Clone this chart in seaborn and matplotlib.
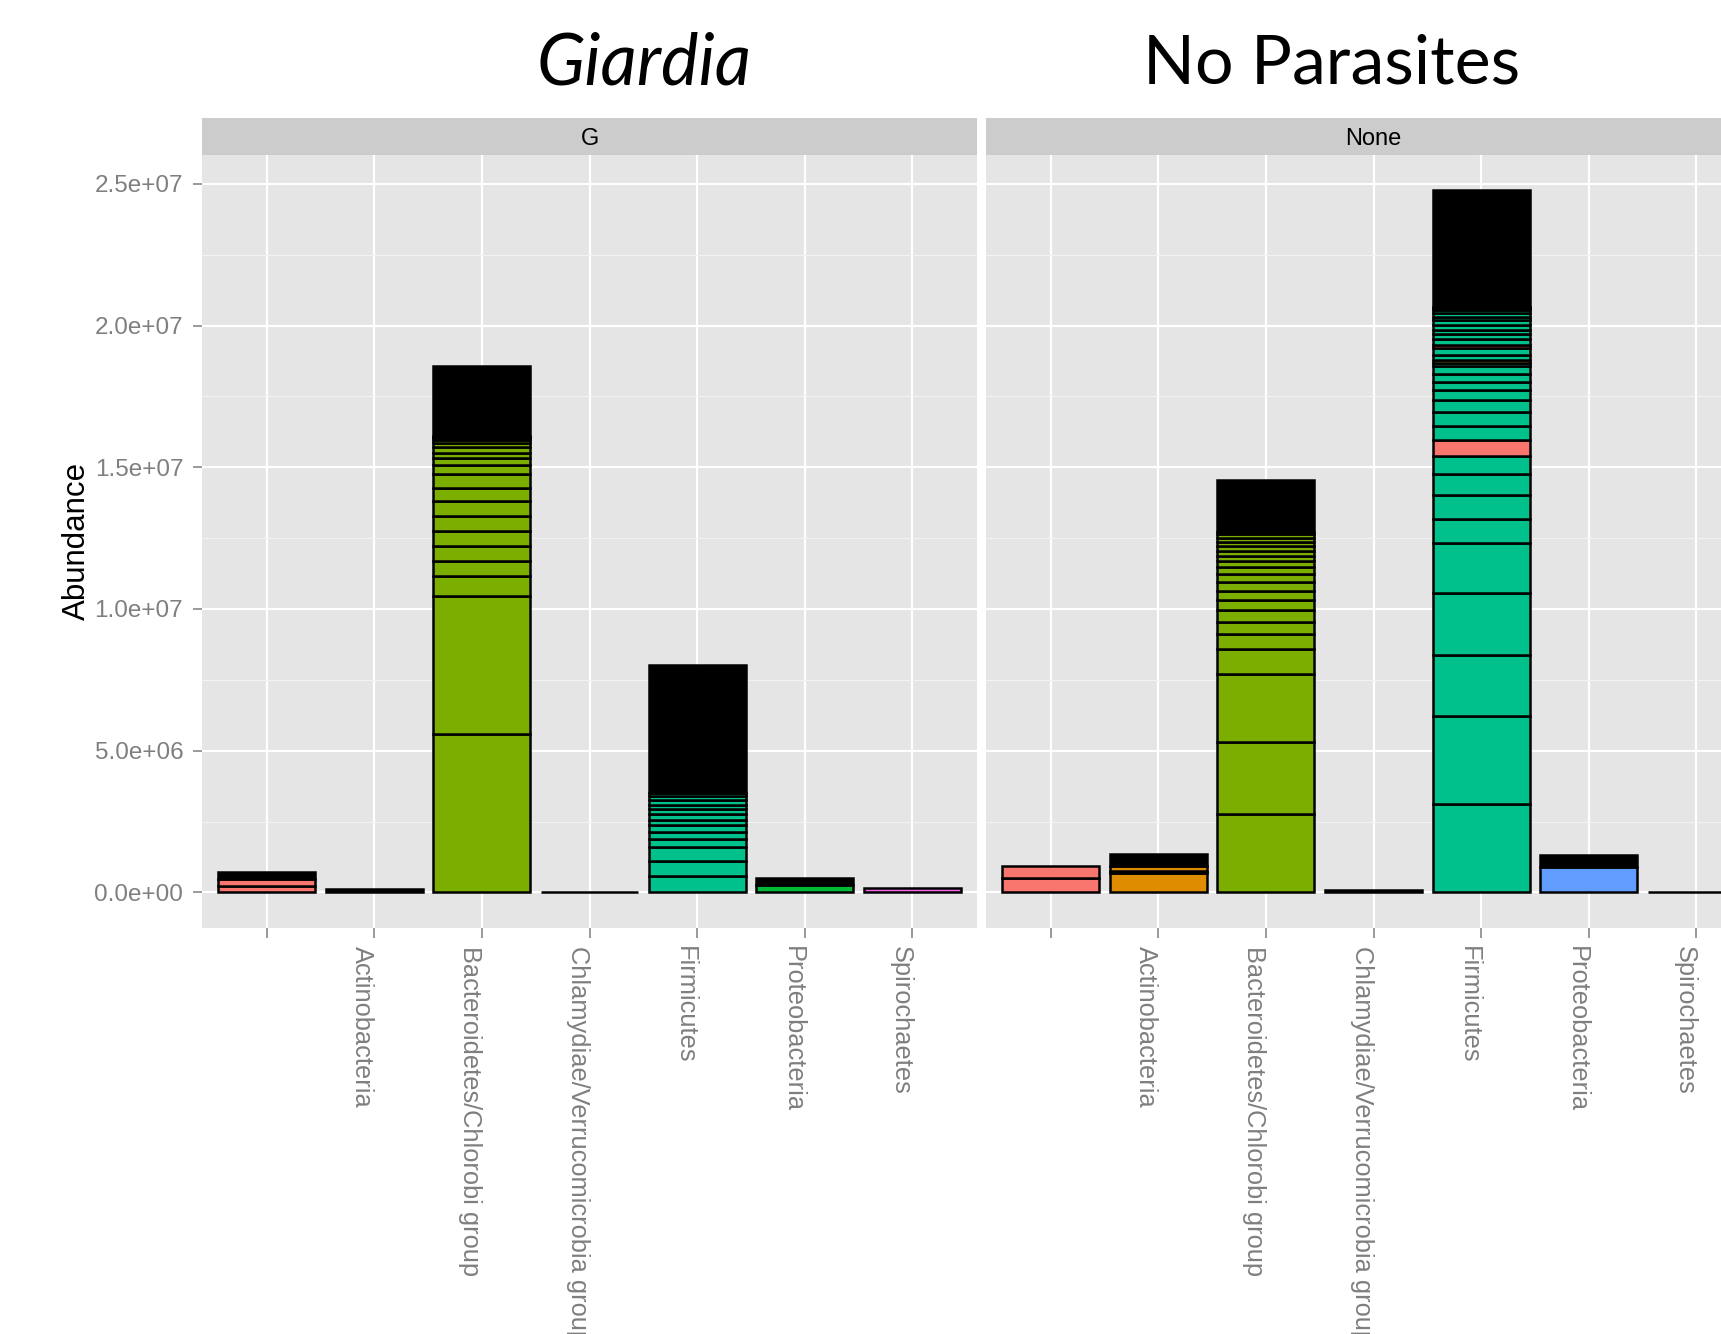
import numpy as np
import matplotlib.pyplot as plt
import seaborn as sns
from matplotlib.ticker import MultipleLocator, FuncFormatter

phyla = ["", "Actinobacteria", "Bacteroidetes/Chlorobi group",
         "Chlamydiae/Verrucomicrobia group", "Firmicutes",
         "Proteobacteria", "Spirochaetes"]
strips = ["G", "None"]
titles = ["Giardia", "No Parasites"]

# abundance of each stacked taxon (millions), bottom to top, one list per phylum
g_abund = [
    [0.235, 0.22, 0.27],
    [0.12],
    [5.60, 4.85, 0.70, 0.53, 0.56, 0.50, 0.54, 0.53, 0.47, 0.48,
     0.31, 0.25, 0.19, 0.19, 0.15, 0.10, 0.07, 0.04, 0.04, 2.47],
    [0.03],
    [0.59, 0.52, 0.50, 0.27, 0.25, 0.24, 0.20, 0.18, 0.18, 0.17,
     0.15, 0.15, 0.10, 4.54],
    [0.25, 0.25],
    [0.17],
]
# fill level of each taxon (index into the 12-level hue palette, -1 = many tiny taxa)
g_fill = [
    [0, 0, -1],
    [-1],
    [3, 3, 3, 3, 3, 3, 3, 3, 3, 3, 3, 3, 3, 3, 3, 3, 3, 3, 3, -1],
    [-1],
    [5, 5, 5, 5, 5, 5, 5, 5, 5, 5, 5, 5, 5, -1],
    [4, -1],
    [10],
]

none_abund = [
    [0.50, 0.42],
    [0.68, 0.09, 0.15, 0.45],
    [2.75, 2.55, 2.41, 0.88, 0.53, 0.43, 0.41, 0.36, 0.30, 0.32,
     0.29, 0.26, 0.21, 0.18, 0.17, 0.16, 0.16, 0.15, 0.12, 0.09, 1.81],
    [0.08],
    [3.11, 3.11, 2.16, 2.18, 1.76, 0.87, 0.82, 0.74, 0.65, 0.58,
     0.47, 0.51, 0.41, 0.36, 0.28, 0.29, 0.28, 0.10, 0.12, 0.16,
     0.24, 0.12, 0.21, 0.17, 0.16, 0.16, 0.17, 0.13, 0.11, 0.12,
     0.06, 0.05, 4.12],
    [0.89, 0.44],
    [0.03],
]
none_fill = [
    [0, 0],
    [1, 1, 1, -1],
    [3, 3, 3, 3, 3, 3, 3, 3, 3, 3, 3, 3, 3, 3, 3, 3, 3, 3, 3, 3, -1],
    [-1],
    [5, 5, 5, 5, 5, 5, 5, 5, 5, 0, 5, 5, 5, 5, 5, 5, 5, 5, 2, 5,
     5, 0, 5, 5, 5, 5, 5, 5, 5, 5, 5, 5, -1],
    [8, -1],
    [-1],
]

# ggplot2 default hue palette, 12 levels
hue12 = ["#F8766D", "#DE8C00", "#B79F00", "#7CAE00", "#00BA38", "#00C08B",
         "#00BFC4", "#00B4F0", "#619CFF", "#C77CFF", "#F564E3", "#FF64B0"]

sns.set_theme(style="darkgrid", rc={"axes.facecolor": "#E5E5E5",
                                    "grid.color": "white",
                                    "figure.facecolor": "white",
                                    "text.color": "black"})
plt.rcParams["font.family"] = ["Liberation Sans", "DejaVu Sans"]

W, H = 1721, 1334
fig = plt.figure(figsize=(W / 100, H / 100), dpi=100)

# panel geometry in pixels (second panel runs off the right edge)
panel_left = [202, 986]
panel_w = 775
panel_top, panel_bot = 155, 927.5
strip_top = 117.5

ymax = max(sum(b) for b in g_abund + none_abund) * 1e6
grey = "#7F7F7F"

for k, (abund, fill) in enumerate([(g_abund, g_fill), (none_abund, none_fill)]):
    ax = fig.add_axes([panel_left[k] / W, 1 - panel_bot / H,
                       panel_w / W, (panel_bot - panel_top) / H])
    for i, (vals, keys) in enumerate(zip(abund, fill)):
        vals = np.array(vals) * 1e6
        bottoms = np.concatenate([[0], np.cumsum(vals)[:-1]])
        cols = ["black" if c < 0 else hue12[c] for c in keys]
        ax.bar(np.full(len(vals), i), vals, bottom=bottoms, width=0.9,
               color=cols, edgecolor="black", linewidth=1.8, zorder=3)

    ax.set_xlim(-0.6, len(phyla) - 0.4)
    ax.set_ylim(-0.05 * ymax, 1.05 * ymax)
    ax.set_yticks(np.arange(0, 2.6e7, 5e6))
    ax.yaxis.set_minor_locator(MultipleLocator(2.5e6))
    ax.yaxis.set_major_formatter(FuncFormatter(lambda v, p: f"{v:.1e}"))
    ax.grid(which="major", color="white", lw=1.6)
    ax.grid(which="minor", axis="y", color="#F2F2F2", lw=0.8)
    for s in ax.spines.values():
        s.set_visible(False)

    ax.set_xticks(range(len(phyla)))
    ax.set_xticklabels(phyla, rotation=270, ha="right", va="top")
    ax.tick_params(axis="x", bottom=True, length=7, width=1.1, color=grey,
                   pad=6, labelsize=18.3, labelcolor=grey)
    ax.tick_params(axis="y", which="major", left=(k == 0), labelleft=(k == 0),
                   length=6.5, width=1.1, color=grey, pad=7,
                   labelsize=17.5, labelcolor=grey)
    ax.tick_params(which="minor", length=0)
    ax.set_xlabel("")
    ax.set_ylabel("")

    sax = fig.add_axes([panel_left[k] / W, 1 - panel_top / H,
                        panel_w / W, (panel_top - strip_top) / H])
    sax.set_facecolor("#CCCCCC")
    sax.set_xticks([])
    sax.set_yticks([])
    sax.grid(False)
    for s in sax.spines.values():
        s.set_visible(False)
    sax.text(0.5, 0.42, strips[k], ha="center", va="center",
             fontsize=17, color="black", transform=sax.transAxes)

fig.text(77 / W, 1 - 541 / H, "Abundance", rotation=90, ha="center",
         va="center", fontsize=22.5, color="black")

title_x = [644, 1332]
fig.text(title_x[0] / W, 1 - 64 / H, titles[0], ha="center", va="center",
         fontsize=51, style="italic", color="black",
         family=["Lato", "DejaVu Sans"])
fig.text(title_x[1] / W, 1 - 64 / H, titles[1], ha="center", va="center",
         fontsize=49, color="black", family=["Lato", "DejaVu Sans"])

fig.savefig("out.png", dpi=100)
